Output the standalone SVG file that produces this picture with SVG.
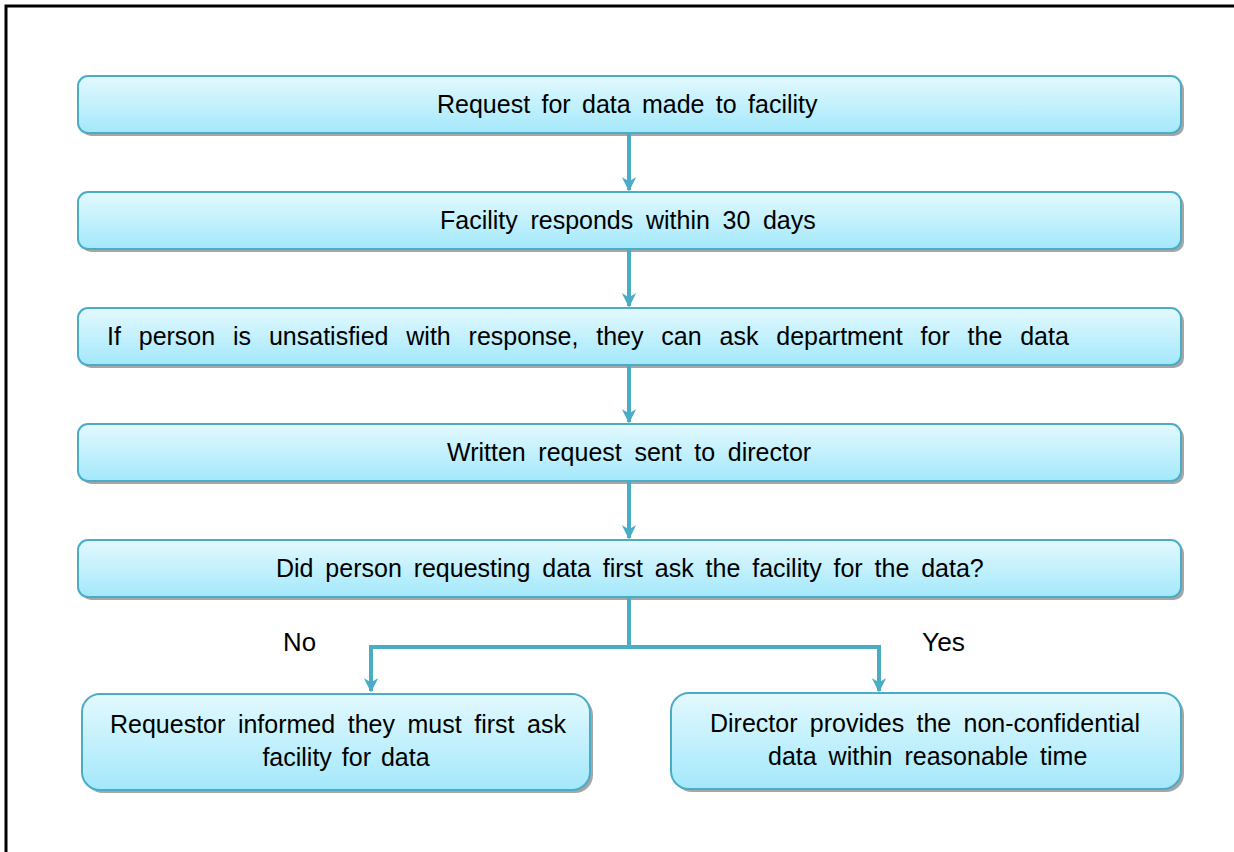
<svg xmlns="http://www.w3.org/2000/svg" width="1234" height="852" viewBox="0 0 1234 852">
<defs>
<linearGradient id="g" x1="0" y1="0" x2="0" y2="1">
<stop offset="0" stop-color="#E3F9FE"/>
<stop offset="1" stop-color="#A3E8FB"/>
</linearGradient>
<marker id="ah" viewBox="0 0 10 10" refX="9" refY="5" markerWidth="3.6" markerHeight="3.6" markerUnits="strokeWidth" orient="auto">
<path d="M0,0 L10,5 L0,10 L3,5 Z" fill="#4BACC6"/>
</marker>
</defs>
<style>
.box{fill:url(#g);stroke:#4BACC6;stroke-width:2}
.sh{fill:#A6A6A6}
.t{font-family:"Liberation Sans",Arial,sans-serif;font-size:25px;fill:#000}
.c{fill:none;stroke:#4BACC6;stroke-width:4}
</style>
<rect width="1234" height="852" fill="#fff"/>
<path d="M6,852 V6 H1234" fill="none" stroke="#000" stroke-width="3"/>
<g id="n1"><rect class="sh" x="81" y="79" width="1103" height="57" rx="10"/><rect class="box" x="78" y="76" width="1103" height="57" rx="10"/><text class="t" x="437" y="113" style="word-spacing:4.4px">Request for data made to facility</text></g>
<g id="n2"><rect class="sh" x="81" y="195" width="1103" height="57" rx="10"/><rect class="box" x="78" y="192" width="1103" height="57" rx="10"/><text class="t" x="440" y="229" style="word-spacing:5.7px">Facility responds within 30 days</text></g>
<g id="n3"><rect class="sh" x="81" y="311" width="1103" height="57" rx="10"/><rect class="box" x="78" y="308" width="1103" height="57" rx="10"/><text class="t" x="107" y="345" style="word-spacing:10.9px">If person is unsatisfied with response, they can ask department for the data</text></g>
<g id="n4"><rect class="sh" x="81" y="427" width="1103" height="57" rx="10"/><rect class="box" x="78" y="424" width="1103" height="57" rx="10"/><text class="t" x="447" y="461" style="word-spacing:5.7px">Written request sent to director</text></g>
<g id="n5"><rect class="sh" x="81" y="543" width="1103" height="57" rx="10"/><rect class="box" x="78" y="540" width="1103" height="57" rx="10"/><text class="t" x="276" y="577" style="word-spacing:4.9px">Did person requesting data first ask the facility for the data?</text></g>
<g id="n6"><rect class="sh" x="85" y="697" width="508" height="96" rx="18"/><rect class="box" x="82" y="694" width="508" height="96" rx="18"/><text class="t" x="110" y="733" style="word-spacing:5.6px">Requestor informed they must first ask</text><text class="t" x="346" y="766" text-anchor="middle" style="word-spacing:3px">facility for data</text></g>
<g id="n7"><rect class="sh" x="674" y="696" width="510" height="96" rx="18"/><rect class="box" x="671" y="693" width="510" height="96" rx="18"/><text class="t" x="710" y="732" style="word-spacing:5.3px">Director provides the non-confidential</text><text class="t" x="768" y="765" style="word-spacing:5px">data within reasonable time</text></g>
<g id="connectors">
<line class="c" x1="629" y1="134" x2="629" y2="190" marker-end="url(#ah)"/>
<line class="c" x1="629" y1="250" x2="629" y2="306" marker-end="url(#ah)"/>
<line class="c" x1="629" y1="366" x2="629" y2="422" marker-end="url(#ah)"/>
<line class="c" x1="629" y1="482" x2="629" y2="538" marker-end="url(#ah)"/>
<path class="c" d="M629,598 V647 H371 V691" marker-end="url(#ah)"/>
<path class="c" d="M629,647 H879 V691" marker-end="url(#ah)"/>
<text class="t" x="283" y="651" textLength="33" lengthAdjust="spacingAndGlyphs">No</text>
<text class="t" x="922" y="651" textLength="43" lengthAdjust="spacingAndGlyphs">Yes</text>
</g>
</svg>
